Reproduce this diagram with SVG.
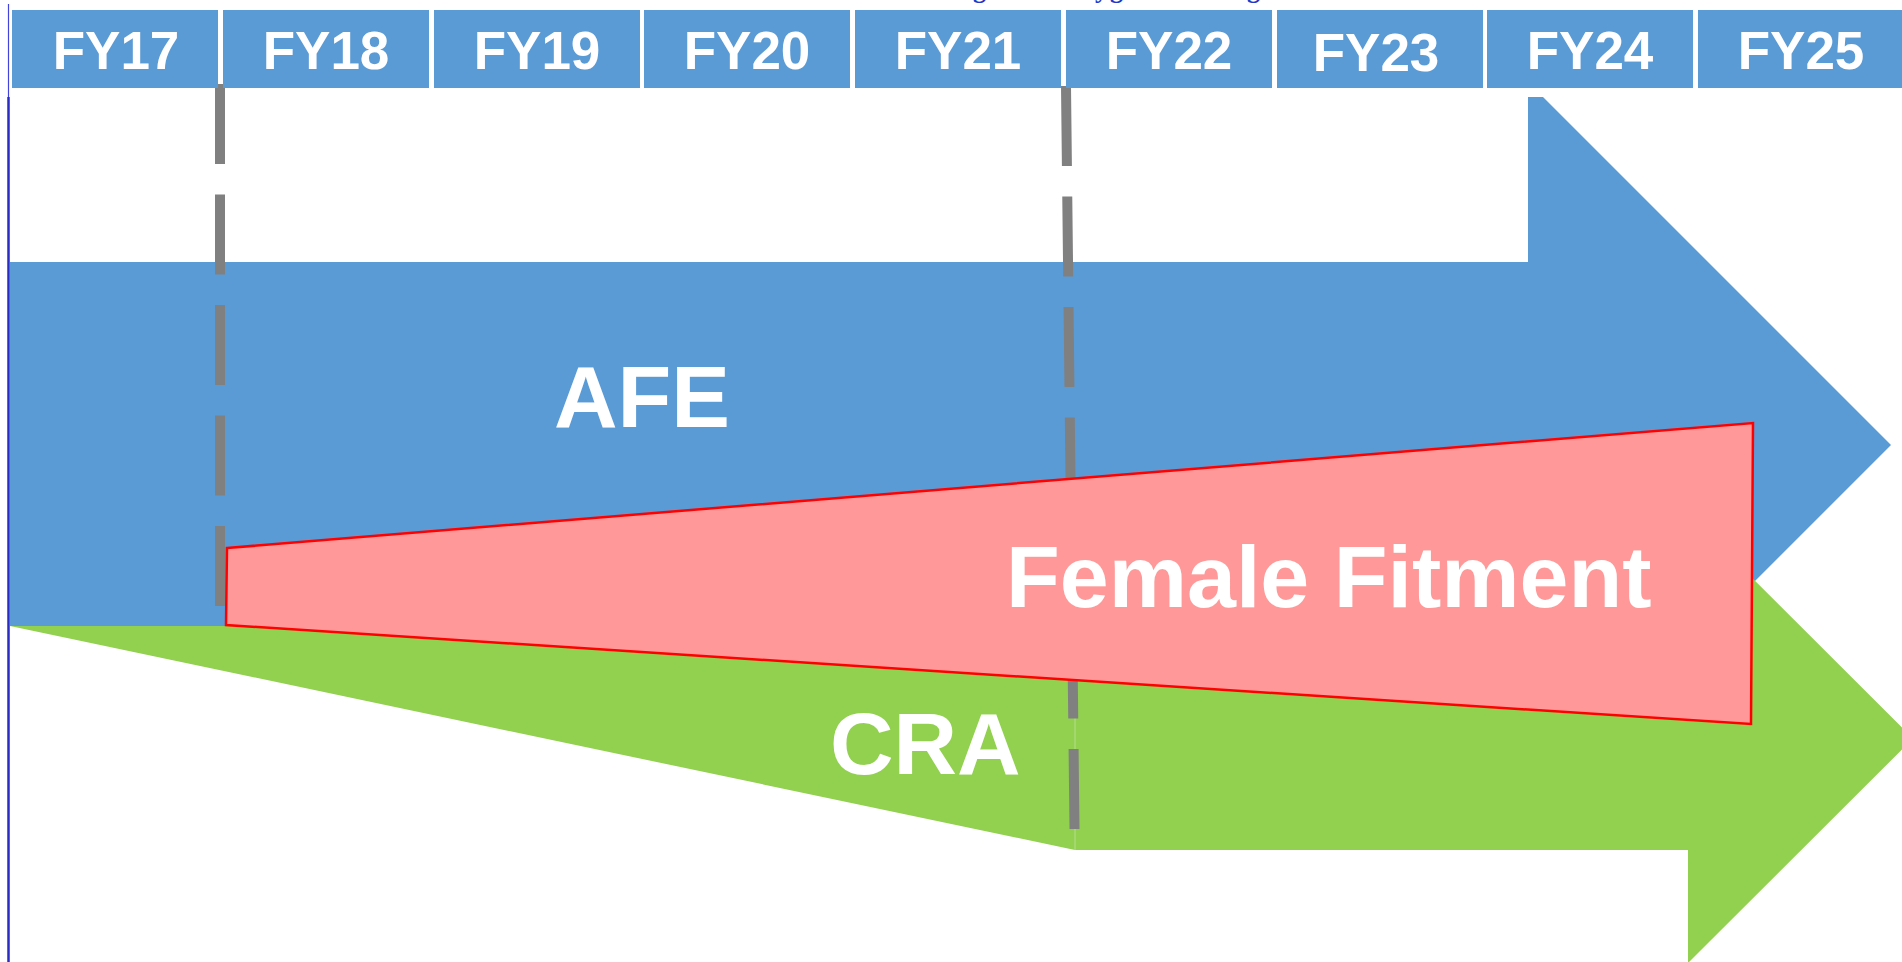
<svg xmlns="http://www.w3.org/2000/svg" width="1902" height="962" viewBox="0 0 1902 962">
<style>
.hdr{fill:#5B9BD5}
.fy{font-family:"Liberation Sans",Arial,sans-serif;font-weight:bold;font-size:53px;fill:#ffffff;text-anchor:middle}
.big{font-family:"Liberation Sans",Arial,sans-serif;font-weight:bold;font-size:88px;fill:#ffffff}
.dash{stroke:#808080;stroke-width:10;stroke-dasharray:80 30.5;fill:none}
.ttl{font-family:"Liberation Serif","Times New Roman",serif;font-weight:bold;font-size:26px;fill:#2438c8}
</style>
<rect x="0" y="0" width="1902" height="962" fill="#ffffff"/>
<g id="title-fragment">
<text class="ttl" x="973" y="-2">g</text>
<text class="ttl" x="1095" y="-2">y</text>
<text class="ttl" x="1110" y="-2">g</text>
<text class="ttl" x="1247" y="-2">g</text>
</g>
<g id="left-rule">
<line x1="8.5" y1="4" x2="8.5" y2="97" stroke="#4444dd" stroke-width="1.2"/>
<line x1="8.5" y1="97" x2="8.5" y2="962" stroke="#2a2ac4" stroke-width="2.5"/>
</g>
<g id="afe-arrow">
<polygon fill="#5B9BD5" points="10,262 1528,262 1528,97 1543,97 1891,445 1543,793 1528,793 1528,626 10,626"/>
</g>
<g id="cra-arrow">
<polygon fill="#92D050" points="10,626 1688,626 1688,514 1913,738.5 1688,963 1688,850 1075,850"/>
<line x1="1075" y1="626" x2="1075" y2="850" stroke="#b4df8c" stroke-width="1"/>
</g>
<g id="connectors">
<line class="dash" x1="220" y1="84" x2="220" y2="607"/>
<line class="dash" x1="1066" y1="86" x2="1074.5" y2="829"/>
</g>
<g id="female-fitment">
<polygon fill="#FF9999" stroke="#FF0000" stroke-width="2.5" stroke-linejoin="miter" points="227,548 1753,423 1751,724 226,625"/>
</g>
<g id="labels">
<text class="big" x="554" y="427">AFE</text>
<text class="big" x="1006" y="607">Female Fitment</text>
<text class="big" x="830" y="774">CRA</text>
</g>
<g id="header">
<g id="fy17"><rect class="hdr" x="12" y="10" width="206" height="78"/><text class="fy" x="116" y="69">FY17</text></g>
<g id="fy18"><rect class="hdr" x="223" y="10" width="206" height="78"/><text class="fy" x="326" y="69">FY18</text></g>
<g id="fy19"><rect class="hdr" x="434" y="10" width="206" height="78"/><text class="fy" x="537" y="69">FY19</text></g>
<g id="fy20"><rect class="hdr" x="644" y="10" width="206" height="78"/><text class="fy" x="747" y="69">FY20</text></g>
<g id="fy21"><rect class="hdr" x="855" y="10" width="206" height="78"/><text class="fy" x="958" y="69">FY21</text></g>
<g id="fy22"><rect class="hdr" x="1066" y="10" width="206" height="78"/><text class="fy" x="1169" y="69">FY22</text></g>
<g id="fy23"><rect class="hdr" x="1277" y="10" width="206" height="78"/><text class="fy" x="1376" y="71">FY23</text></g>
<g id="fy24"><rect class="hdr" x="1487" y="10" width="206" height="78"/><text class="fy" x="1590" y="69">FY24</text></g>
<g id="fy25"><rect class="hdr" x="1698" y="10" width="206" height="78"/><text class="fy" x="1801" y="69">FY25</text></g>
</g>
</svg>
